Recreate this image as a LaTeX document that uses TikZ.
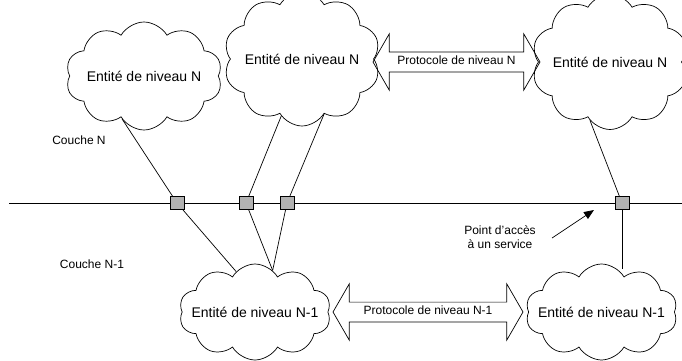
\documentclass[tikz,border=0pt]{standalone}
\usepackage{fontspec}
\setmainfont{Liberation Sans}
\usetikzlibrary{shapes.symbols,shapes.arrows,arrows.meta}

\tikzset{
	entite/.style={cloud, cloud puffs=10, cloud puff arc=120, cloud ignores aspect,
		draw, line width=0.7pt, inner sep=0pt, font=\fontsize{14}{16}\selectfont},
	proto/.style={double arrow, draw, line width=0.7pt, double arrow tip angle=120,
		double arrow head extend=18pt, minimum width=56pt, inner xsep=0pt, inner ysep=5pt,
		text height=7pt, text depth=2pt, font=\fontsize{12}{14}\selectfont},
	acces/.style={draw, line width=0.7pt, fill=gray!60, minimum width=14pt,
		minimum height=13pt, inner sep=0pt},
	lbl/.style={font=\fontsize{12}{14}\selectfont},
	pointer/.style={-{Triangle[length=10pt,width=8pt]}, line width=0.7pt}
}

\begin{document}
\begin{tikzpicture}[x=1pt,y=-1pt,line width=0.7pt]
\useasboundingbox (0,0) rectangle (682,361);

% couche N
\node[entite, minimum width=134pt, minimum height=108pt] (cA) at (144,76) {Entit\'e de niveau N};
\node[entite, minimum width=117pt, minimum height=134pt] (cB) at (302,59) {Entit\'e de niveau N};
\node[entite, minimum width=119pt, minimum height=135pt] (cC) at (610,62) {Entit\'e de niveau N};
\node[proto, minimum height=167pt] (pN) at (456.5,62) {Protocole de niveau N};

% couche N-1
\node[entite, inner xsep=-8pt, minimum width=134pt, minimum height=96pt] (cD) at (255,312) {Entit\'e de niveau N-1};
\node[entite, inner xsep=-8pt, minimum width=135pt, minimum height=96pt] (cE) at (601.5,312) {Entit\'e de niveau N-1};
\node[proto, minimum height=190pt] (pN1) at (428,312) {Protocole de niveau N-1};

\node[lbl] (coucheN) at (79,140) {Couche N};
\node[lbl] (coucheN1) at (92,264) {Couche N-1};

% frontiere entre les couches
\draw (9,203) -- (682,203);
\foreach \x/\n in {177/sq1,246/sq2,287/sq3,622/sq4}{
	\node[acces] (\n) at (\x,203) {};
}

\draw (cA.-117) -- (sq1);
\draw (cB.-110) -- (sq2);
\draw (cB.-68) -- (sq3);
\draw (cC.-109) -- (sq4);
\draw (sq1) -- (cD.115);
\draw (sq2) -- (cD.67);
\draw (sq3) -- (cD.67);
\draw (sq4) -- (cE.69 -| sq4);

\node[lbl, align=center] (pa) at (500,237) {Point d'acc\`es\\\`a un service};
\coordinate (queue) at (552,238);
\coordinate (tip) at (594,210);
\draw[pointer] (queue) -- (tip);
\end{tikzpicture}
\end{document}
